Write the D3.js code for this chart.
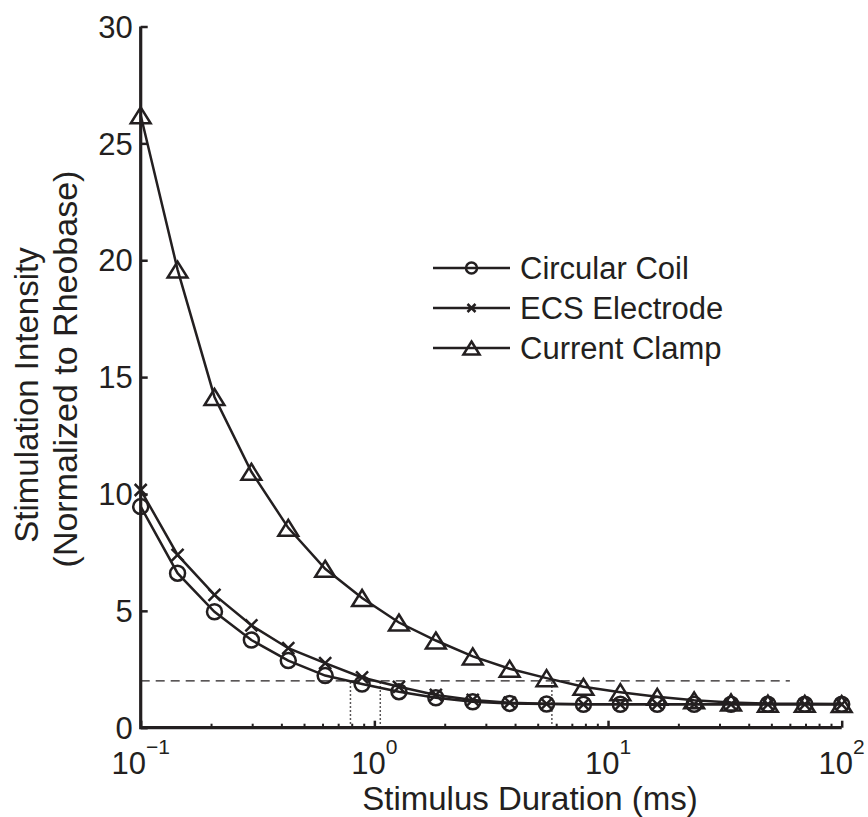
<!DOCTYPE html>
<html lang="en">
<meta charset="UTF-8">
<style>
    body{ margin:0; background:#fff; }
    text{
        font-family:"Liberation Sans",Arial,Helvetica,sans-serif;
        fill:#231f20;
    }
    .curve{ fill:none; stroke:#231f20; stroke-width:2.5; }
    .marker{ fill:none; stroke:#231f20; stroke-width:2.5; }
</style>
<body>
<div id="chart"></div>
<script src="https://cdn.jsdelivr.net/npm/d3@7"></script>
<script>
    // stimulus durations (ms), log spaced
    var durations = [0.1, 0.1438, 0.2069, 0.2976, 0.4281, 0.6158, 0.8859, 1.274, 1.833, 2.637,
                     3.793, 5.456, 7.848, 11.29, 16.24, 23.36, 33.60, 48.33, 69.52, 100];

    var circularCoil = [9.46, 6.61, 4.96, 3.75, 2.87, 2.23, 1.87, 1.54, 1.28, 1.11,
                        1.04, 1.01, 1.0, 1.0, 1.0, 1.0, 1.0, 1.0, 1.0, 1.0];
    var ecsElectrode = [10.17, 7.39, 5.68, 4.38, 3.40, 2.76, 2.15, 1.75, 1.40, 1.19,
                        1.07, 1.02, 1.0, 1.0, 1.0, 1.0, 1.0, 1.0, 1.0, 1.0];
    var currentClamp = [26.2, 19.6, 14.15, 10.95, 8.55, 6.8, 5.55, 4.5, 3.73, 3.05,
                        2.52, 2.12, 1.75, 1.52, 1.32, 1.17, 1.08, 1.03, 1.02, 1.01];

    var seriesNames = ["Circular Coil", "ECS Electrode", "Current Clamp"];
    var yTicks = [0, 5, 10, 15, 20, 25, 30];
    var xTicks = [0.1, 1, 10, 100];
    var xTickExp = ["\u22121", "0", "1", "2"];
    var threshold = 2;          // dashed line (2x rheobase)
    var thresholdEnd = 60;      // dashed line stops here
    var chronaxies = [0.79, 1.06, 5.75];

    var width = 868, height = 817;
    var margin = {top:26.5, right:26.3, bottom:89.3, left:140.7};

    var svg = d3.select("#chart").append("svg")
        .attr("width", width)
        .attr("height", height);

    var x = d3.scaleLog()
        .domain([0.1, 100])
        .range([margin.left, width - margin.right]);

    var y = d3.scaleLinear()
        .domain([0, 30])
        .range([height - margin.bottom, margin.top]);

    var ink = "#231f20";

    // dashed threshold line
    svg.append("line")
        .attr("x1", x(0.1)).attr("x2", x(thresholdEnd))
        .attr("y1", y(threshold)).attr("y2", y(threshold))
        .attr("stroke", ink).attr("stroke-width", 1.3)
        .attr("stroke-dasharray", "9,6");

    // dotted chronaxie lines
    svg.selectAll("line.chron")
        .data(chronaxies)
        .enter().append("line")
        .attr("class", "chron")
        .attr("x1", function(d){ return x(d); })
        .attr("x2", function(d){ return x(d); })
        .attr("y1", y(0)).attr("y2", y(threshold))
        .attr("stroke", ink).attr("stroke-width", 1.5)
        .attr("stroke-dasharray", "1.5,2.5");

    // axes
    var yAxis = d3.axisRight(y).tickValues(yTicks).tickSize(7).tickFormat("");
    var gy = svg.append("g")
        .attr("transform", "translate(" + margin.left + ",0)")
        .call(yAxis);
    gy.select(".domain").remove();
    gy.selectAll("line").attr("stroke", ink).attr("stroke-width", 2.5);

    var minorTicks = [];
    [0.1, 1, 10].forEach(function(dec){
        for (var k = 2; k <= 9; k++) minorTicks.push(dec * k);
    });
    var gxMinor = svg.append("g")
        .attr("transform", "translate(0," + y(0) + ")")
        .call(d3.axisTop(x).tickValues(minorTicks).tickSize(4).tickFormat(""));
    gxMinor.select(".domain").remove();
    gxMinor.selectAll("line").attr("stroke", ink).attr("stroke-width", 2);

    var gxMajor = svg.append("g")
        .attr("transform", "translate(0," + y(0) + ")")
        .call(d3.axisTop(x).tickValues(xTicks).tickSize(7).tickFormat(""));
    gxMajor.select(".domain").remove();
    gxMajor.selectAll("line").attr("stroke", ink).attr("stroke-width", 2.5);

    // axis lines (left + bottom only)
    svg.append("path")
        .attr("d", "M" + x(0.1) + "," + y(30) + "V" + y(0) + "H" + x(100))
        .attr("fill", "none").attr("stroke", ink).attr("stroke-width", 3.2)
        .attr("stroke-linejoin", "miter");

    // tick labels
    svg.selectAll("text.ylab")
        .data(yTicks)
        .enter().append("text")
        .attr("class", "ylab")
        .attr("x", margin.left - 8)
        .attr("y", function(d){ return y(d); })
        .attr("dy", "0.36em")
        .attr("text-anchor", "end")
        .style("font-size", "31px")
        .text(function(d){ return d; });

    var xl = svg.selectAll("text.xlab")
        .data(xTicks)
        .enter().append("text")
        .attr("class", "xlab")
        .attr("x", function(d){ return x(d); })
        .attr("y", y(0) + 46)
        .attr("text-anchor", "middle")
        .style("font-size", "31px");
    xl.append("tspan").text("10");
    xl.append("tspan")
        .attr("dy", -20)
        .style("font-size", "21px")
        .text(function(d, i){ return xTickExp[i]; });

    // axis titles
    svg.append("text")
        .attr("x", 530)
        .attr("y", height - 7)
        .attr("text-anchor", "middle")
        .style("font-size", "33px")
        .text("Stimulus Duration (ms)");

    svg.append("text")
        .attr("transform", "translate(38,395) rotate(-90)")
        .attr("text-anchor", "middle")
        .style("font-size", "33px")
        .text("Stimulation Intensity");
    svg.append("text")
        .attr("transform", "translate(77,369) rotate(-90)")
        .attr("text-anchor", "middle")
        .style("font-size", "34px")
        .text("(Normalized to Rheobase)");

    // curves
    var line = d3.line()
        .x(function(d){ return x(d[0]); })
        .y(function(d){ return y(d[1]); });

    var series = [circularCoil, ecsElectrode, currentClamp].map(function(vals){
        return durations.map(function(t, i){ return [t, vals[i]]; });
    });

    function markerPath(type, s) {
        if (type === 0) {
            var r = s / 2;
            return "M" + r + ",0A" + r + "," + r + " 0 1,1 " + (-r) + ",0A" + r + "," + r + " 0 1,1 " + r + ",0Z";
        }
        if (type === 1) {
            var h = s / 2;
            return "M" + (-h) + "," + (-h) + "L" + h + "," + h + "M" + (-h) + "," + h + "L" + h + "," + (-h);
        }
        var w = s * 0.62, hh = s * 0.5;
        return "M0," + (-hh) + "L" + w + "," + hh + "L" + (-w) + "," + hh + "Z";
    }
    var markerSize = [15, 12, 16];

    series.forEach(function(pts){
        svg.append("path")
            .datum(pts)
            .attr("class", "curve")
            .attr("d", line);
    });
    series.forEach(function(pts, si){
        svg.selectAll("path.m" + si)
            .data(pts)
            .enter().append("path")
            .attr("class", "marker m" + si)
            .attr("transform", function(d){ return "translate(" + x(d[0]) + "," + y(d[1]) + ")"; })
            .attr("d", markerPath(si, markerSize[si]));
    });

    // legend
    var legend = svg.selectAll("g.legend")
        .data(seriesNames)
        .enter().append("g")
        .attr("class", "legend")
        .attr("transform", function(d, i){ return "translate(433," + (268 + 40 * i) + ")"; });
    legend.append("line")
        .attr("x1", 0).attr("x2", 77)
        .attr("stroke", ink).attr("stroke-width", 2.5);
    legend.append("path")
        .attr("class", "marker")
        .attr("transform", "translate(38.5,0)")
        .attr("d", function(d, i){ return markerPath(i, [11, 8, 13][i]); })
        .attr("fill", "#fff");
    legend.append("text")
        .attr("x", 87)
        .attr("dy", "0.36em")
        .style("font-size", "31px")
        .text(function(d){ return d; });
</script>
</body>
</html>
